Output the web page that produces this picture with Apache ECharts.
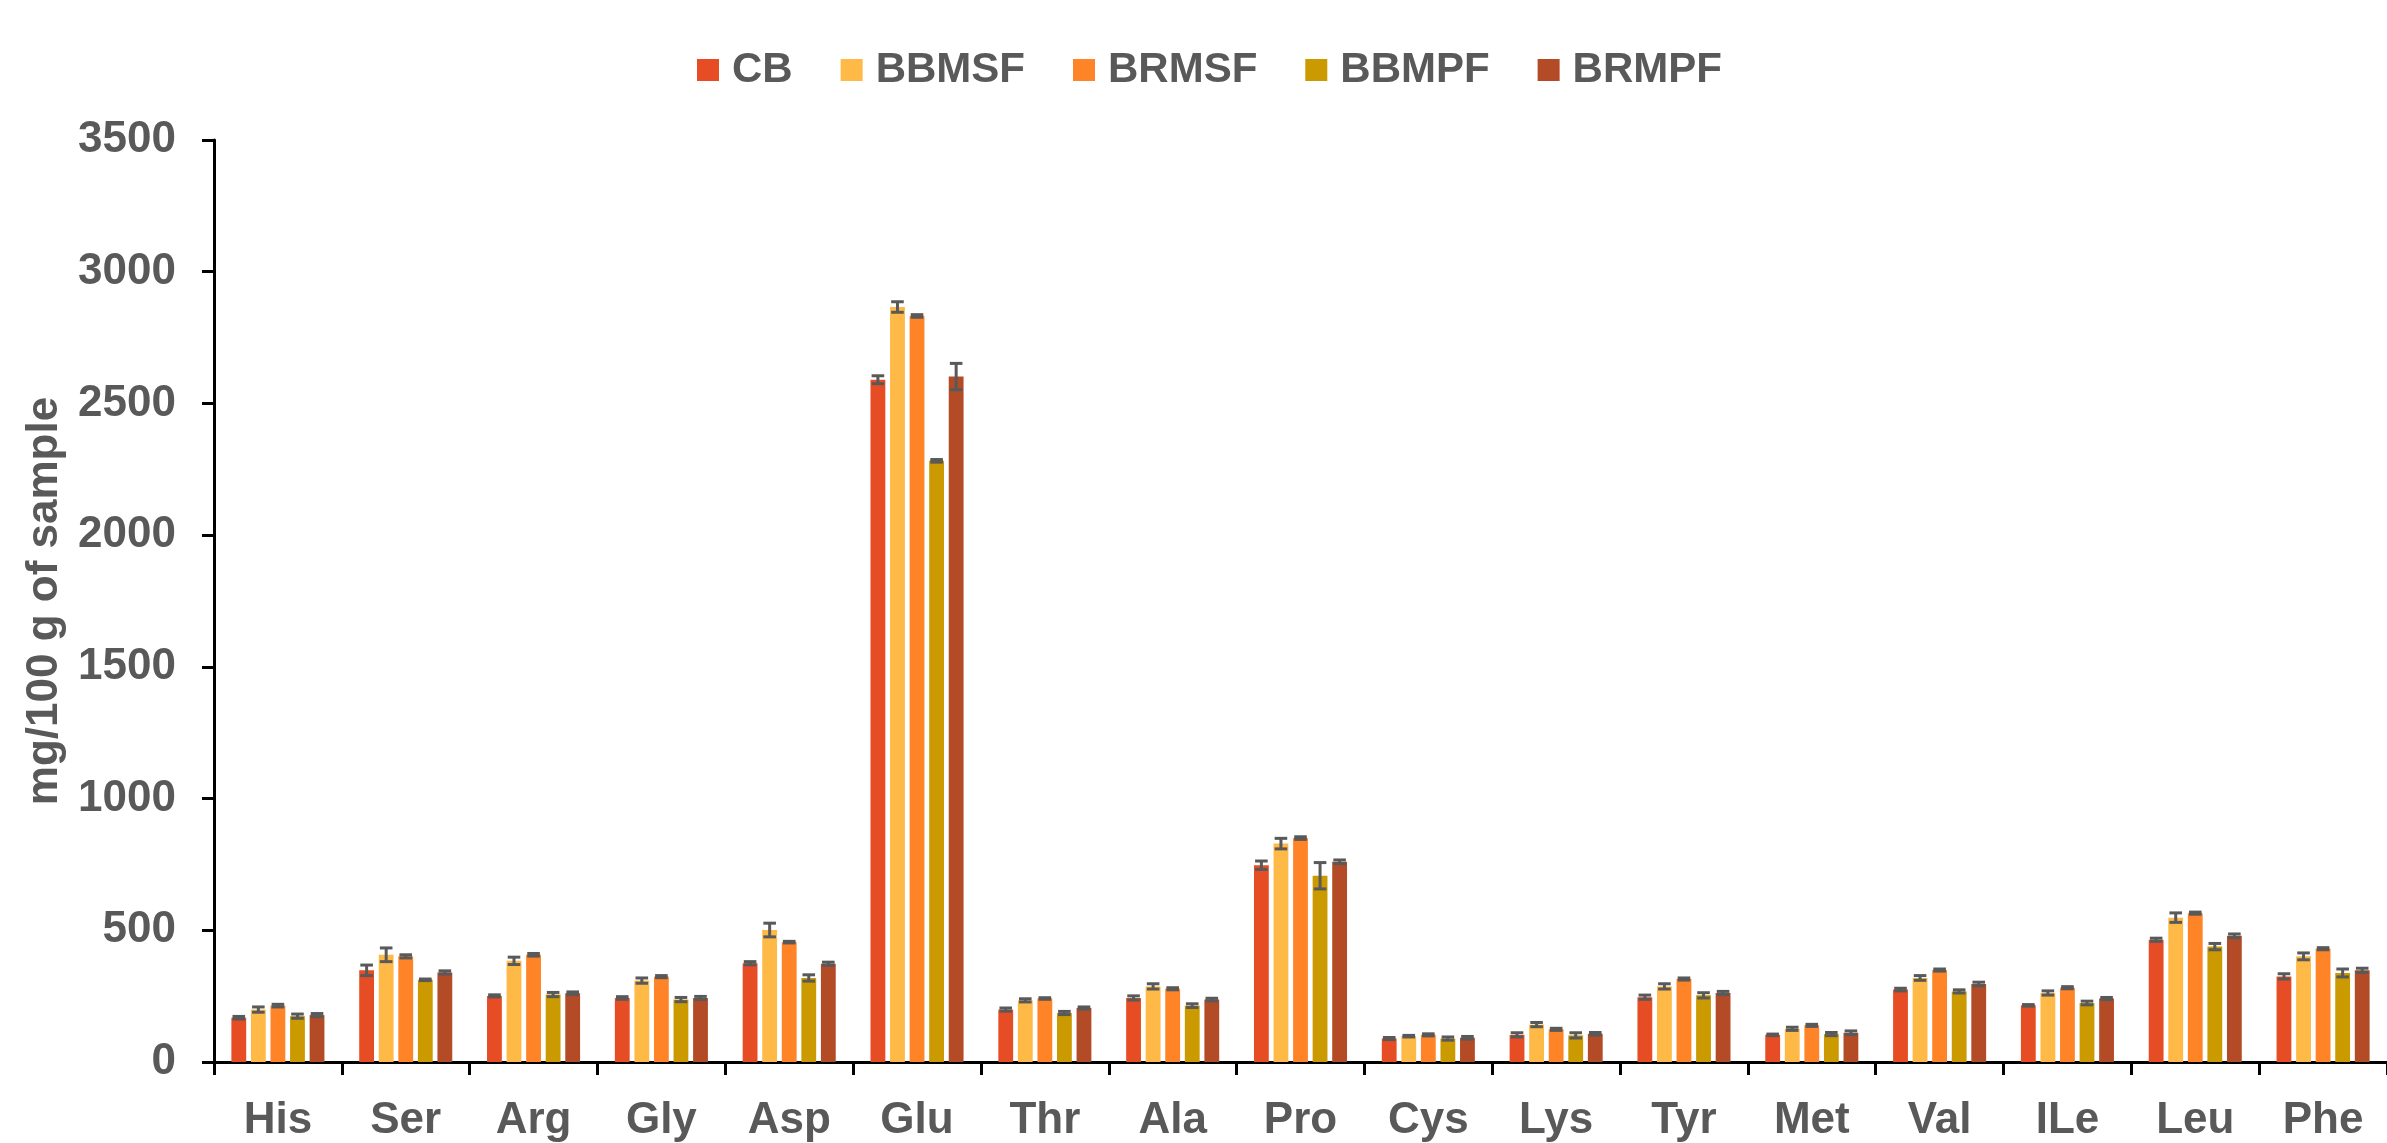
<!DOCTYPE html>
<html>
<head>
<meta charset="utf-8">
<title>Amino acids</title>
<script src="https://cdn.jsdelivr.net/npm/echarts@6/dist/echarts.min.js"></script>
<style>
  html, body { margin: 0; padding: 0; background: #fff; }
  #main { width: 2387px; height: 1143px; }
</style>
</head>
<body>
<div id="main"></div>
<script>
// categories (x axis)
const aminoAcids = ["His", "Ser", "Arg", "Gly", "Asp", "Glu", "Thr", "Ala", "Pro", "Cys", "Lys", "Tyr", "Met", "Val", "ILe", "Leu", "Phe"];
const seriesNames = ["CB", "BBMSF", "BRMSF", "BBMPF", "BRMPF"];

// mg/100 g of sample
const cb    = [168, 348, 251, 243, 375, 2590, 199, 243, 747, 89, 103, 246, 103, 275, 215, 464, 325];
const bbmsf = [199, 407, 384, 309, 501, 2866, 234, 287, 829, 98, 142, 287, 126, 319, 262, 548, 401];
const brmsf = [214, 401, 407, 324, 455, 2832, 241, 278, 850, 103, 124, 315, 139, 349, 282, 565, 430];
const bbmpf = [174, 312, 256, 237, 319, 2282, 186, 214, 707, 89, 101, 253, 106, 268, 224, 438, 338];
const brmpf = [178, 340, 261, 243, 373, 2602, 205, 237, 760, 92, 107, 262, 111, 296, 241, 479, 348];

// error bars (+/-)
const cbErr    = [5, 20, 4, 5, 6, 15, 6, 8, 16, 4, 8, 8, 3, 5, 3, 6, 10];
const bbmsfErr = [10, 26, 14, 10, 26, 20, 6, 10, 20, 3, 8, 10, 6, 9, 8, 18, 13];
const brmsfErr = [5, 6, 5, 4, 3, 5, 3, 4, 5, 4, 4, 4, 4, 4, 4, 4, 4];
const bbmpfErr = [8, 3, 8, 8, 12, 5, 6, 7, 50, 6, 10, 10, 6, 6, 7, 12, 15];
const brmpfErr = [6, 6, 5, 6, 6, 50, 4, 5, 7, 5, 5, 6, 7, 7, 4, 7, 8];

const yTicks = [0, 500, 1000, 1500, 2000, 2500, 3000, 3500];

const colors = ["#E64D24", "#FFB946", "#FF8427", "#CB9A00", "#B44B27"];
const textColor = "#595959";
const font = "Liberation Sans";

const values = [cb, bbmsf, brmsf, bbmpf, brmpf];
const errors = [cbErr, bbmsfErr, brmsfErr, bbmpfErr, brmpfErr];

// bar layout (same numbers the bar series use)
const catGap = 0.272;
const barGapRatio = 0.32;

let myChart = echarts.init(document.getElementById("main"));

// error bar data: [category index, value, error, series index]
let errData = [];
values.forEach((arr, s) => {
  arr.forEach((v, i) => {
    errData.push([i, v, errors[s][i], s]);
  });
});

function renderErr(params, api) {
  let x = api.value(0);
  let v = api.value(1);
  let e = api.value(2);
  let s = api.value(3);
  let band = api.size([1, 0])[0];
  let n = seriesNames.length;
  let barW = band * (1 - catGap) / (n + (n - 1) * barGapRatio);
  let off = (s - (n - 1) / 2) * barW * (1 + barGapRatio);
  let top = api.coord([x, v + e]);
  let bot = api.coord([x, v - e]);
  let cx = top[0] + off;
  let capW = barW * 0.85;
  let style = { stroke: "#595959", lineWidth: 3 };
  return {
    type: "group",
    children: [
      { type: "line", shape: { x1: cx, y1: top[1], x2: cx, y2: bot[1] }, style: style },
      { type: "line", shape: { x1: cx - capW / 2, y1: top[1], x2: cx + capW / 2, y2: top[1] }, style: style },
      { type: "line", shape: { x1: cx - capW / 2, y1: bot[1], x2: cx + capW / 2, y2: bot[1] }, style: style },
    ],
  };
}

let series = seriesNames.map((name, s) => ({
  name: name,
  type: "bar",
  data: values[s],
  barGap: (barGapRatio * 100) + "%",
  barCategoryGap: (catGap * 100) + "%",
  itemStyle: { color: colors[s] },
}));

series.push({
  type: "custom",
  name: "err",
  renderItem: renderErr,
  data: errData,
  encode: { x: 0, y: 1 },
  z: 10,
  silent: true,
});

let option = {
  animation: false,
  color: colors,
  textStyle: { fontFamily: font },
  legend: {
    data: seriesNames,
    left: 692,
    top: 44,
    icon: "rect",
    itemWidth: 22,
    itemHeight: 22,
    itemGap: 48,
    textStyle: {
      fontFamily: font,
      fontSize: 42,
      fontWeight: "bold",
      color: textColor,
      padding: [0, 0, 0, 8],
    },
  },
  grid: {
    left: 214,
    right: -6,
    top: 140,
    bottom: 78,
  },
  xAxis: {
    type: "category",
    data: aminoAcids,
    axisLine: { lineStyle: { color: "#000", width: 3 } },
    axisTick: { show: true, length: 13, lineStyle: { color: "#000", width: 3 } },
    axisLabel: {
      margin: 37,
      fontFamily: font,
      fontSize: 44,
      fontWeight: "bold",
      color: textColor,
    },
  },
  yAxis: {
    type: "value",
    min: yTicks[0],
    max: yTicks[yTicks.length - 1],
    interval: 500,
    name: "mg/100 g of sample",
    nameLocation: "middle",
    nameGap: 132,
    nameTextStyle: {
      fontFamily: font,
      fontSize: 44,
      fontWeight: "bold",
      color: textColor,
    },
    splitLine: { show: false },
    axisLine: { show: true, lineStyle: { color: "#000", width: 3 } },
    axisTick: { show: true, length: 12, lineStyle: { color: "#000", width: 3 } },
    axisLabel: {
      margin: 38,
      fontFamily: font,
      fontSize: 44,
      fontWeight: "bold",
      color: textColor,
      formatter: (v) => String(v),
    },
  },
  series: series,
};

myChart.setOption(option);
</script>
</body>
</html>
